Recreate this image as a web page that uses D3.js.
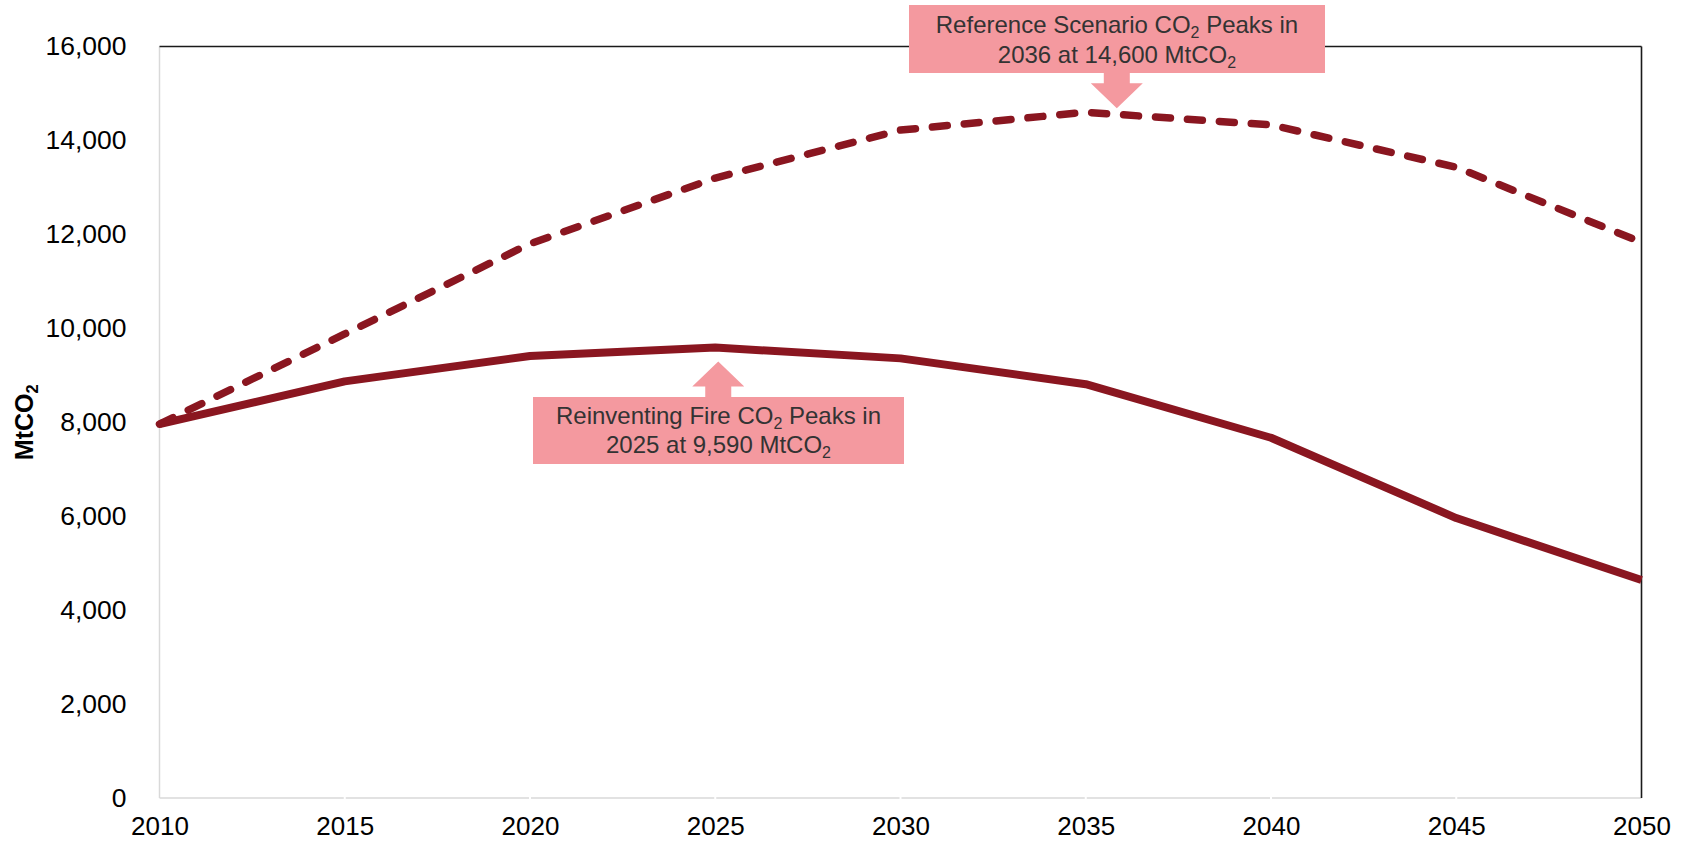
<!DOCTYPE html>
<html>
<head>
<meta charset="utf-8">
<script src="https://cdn.jsdelivr.net/npm/d3@7"></script>
<style>
  html, body { margin: 0; padding: 0; background: #fff; }
  svg { display: block; font-family: "Liberation Sans", Arial, sans-serif; }
</style>
</head>
<body>
<svg id="chart" width="1683" height="842"></svg>
<script>
// CO2 emissions, MtCO2, by 5-year step
const years = [2010, 2015, 2020, 2025, 2030, 2035, 2040, 2045, 2050];
const referenceScenario = [7960, 9880, 11800, 13200, 14220, 14600, 14330, 13430, 11830];
const reinventingFire = [7960, 8870, 9410, 9590, 9360, 8810, 7670, 5960, 4640];
const yTicks = [0, 2000, 4000, 6000, 8000, 10000, 12000, 14000, 16000];
const xTicks = [2010, 2015, 2020, 2025, 2030, 2035, 2040, 2045, 2050];

// Callout annotations: [text before subscript, subscript, text after] per line
const refCallout = { year: 2036, value: 14600,
  lines: [["Reference Scenario CO", "2", " Peaks in"], ["2036 at 14,600 MtCO", "2", ""]] };
const rfCallout = { year: 2025, value: 9590,
  lines: [["Reinventing Fire CO", "2", " Peaks in"], ["2025 at 9,590 MtCO", "2", ""]] };

const W = 1683, H = 842;
const margin = { top: 46.5, right: 41.5, bottom: 44, left: 159.5 };
const lineColor = "#8a1620";
const calloutFill = "#f4999f";
const textColor = "#333333";
const FONT = "'Liberation Sans', Arial, sans-serif";

const svg = d3.select("#chart");

const x = d3.scaleLinear().domain([2010, 2050]).range([margin.left, W - margin.right]);
const y = d3.scaleLinear().domain([0, 16000]).range([H - margin.bottom, margin.top]);

// Frame: light left/bottom axes, dark top/right borders
const frame = svg.append("g");
frame.append("line")
  .attr("x1", x(2010)).attr("x2", x(2010)).attr("y1", y(16000)).attr("y2", y(0))
  .attr("stroke", "#d9d9d9").attr("stroke-width", 1.5);
frame.append("line")
  .attr("x1", x(2010)).attr("x2", x(2050)).attr("y1", y(0)).attr("y2", y(0))
  .attr("stroke", "#d9d9d9").attr("stroke-width", 1.5);
frame.append("line")
  .attr("x1", x(2010)).attr("x2", x(2050)).attr("y1", y(16000)).attr("y2", y(16000))
  .attr("stroke", "#1a1a1a").attr("stroke-width", 1.6);
frame.append("line")
  .attr("x1", x(2050)).attr("x2", x(2050)).attr("y1", y(16000)).attr("y2", y(0))
  .attr("stroke", "#1a1a1a").attr("stroke-width", 1.6);

// Y axis labels
const yAxis = d3.axisLeft(y).tickValues(yTicks).tickFormat(d3.format(",")).tickSize(0).tickPadding(33);
const gy = svg.append("g").attr("transform", `translate(${margin.left},0)`).call(yAxis);
gy.select(".domain").remove();
gy.selectAll("text").attr("font-size", 26.5).attr("fill", "#000").attr("font-family", FONT);

// X axis labels
const xAxis = d3.axisBottom(x).tickValues(xTicks).tickFormat(d3.format("d")).tickSize(0).tickPadding(19);
const gx = svg.append("g").attr("transform", `translate(0,${H - margin.bottom})`).call(xAxis);
gx.select(".domain").remove();
gx.selectAll("text").attr("font-size", 26).attr("fill", "#000").attr("font-family", FONT);
// small breaks in the bottom axis at each tick
svg.append("g").selectAll("line").data(xTicks.slice(1, -1)).join("line")
  .attr("x1", d => x(d)).attr("x2", d => x(d))
  .attr("y1", y(0) - 1).attr("y2", y(0) + 1)
  .attr("stroke", "#fff").attr("stroke-width", 2);

// Y axis title
const yTitle = svg.append("text")
  .attr("transform", `translate(33,${(y(0) + y(16000)) / 2}) rotate(-90)`)
  .attr("text-anchor", "middle").attr("font-family", FONT)
  .attr("font-size", 25).attr("font-weight", "bold").attr("fill", "#000");
yTitle.append("tspan").text("MtCO");
yTitle.append("tspan").text("2").attr("font-size", 16.5).attr("dy", 5);

// Series lines
const line = d3.line().x((d, i) => x(years[i])).y(d => y(d)).curve(d3.curveLinear);

svg.append("path")
  .datum(reinventingFire)
  .attr("d", line)
  .attr("fill", "none")
  .attr("stroke", lineColor)
  .attr("stroke-width", 8)
  .attr("stroke-linejoin", "round");

svg.append("path")
  .datum(referenceScenario)
  .attr("d", line)
  .attr("fill", "none")
  .attr("stroke", lineColor)
  .attr("stroke-width", 7.5)
  .attr("stroke-linecap", "round")
  .attr("stroke-linejoin", "round")
  .attr("stroke-dasharray", "15,17");

// Callout box with arrow
function callout(cfg, opts) {
  const g = svg.append("g");
  const tipX = opts.tipX;
  const tipY = opts.tipY;
  const bx = opts.boxX, by = opts.boxY, bw = opts.boxW, bh = opts.boxH;
  const stemW = 26, headW = 52, headH = 25;
  let pts;
  if (opts.dir === "down") {
    const baseY = tipY - headH;
    pts = [[tipX - stemW / 2, by + bh - 1], [tipX - stemW / 2, baseY], [tipX - headW / 2, baseY],
           [tipX, tipY], [tipX + headW / 2, baseY], [tipX + stemW / 2, baseY], [tipX + stemW / 2, by + bh - 1]];
  } else {
    const baseY = tipY + headH;
    pts = [[tipX - stemW / 2, by + 1], [tipX - stemW / 2, baseY], [tipX - headW / 2, baseY],
           [tipX, tipY], [tipX + headW / 2, baseY], [tipX + stemW / 2, baseY], [tipX + stemW / 2, by + 1]];
  }
  g.append("rect").attr("x", bx).attr("y", by).attr("width", bw).attr("height", bh).attr("fill", calloutFill);
  g.append("path").attr("d", d3.line()(pts) + "Z").attr("fill", calloutFill);
  cfg.lines.forEach((parts, i) => {
    const t = g.append("text")
      .attr("x", bx + bw / 2).attr("y", by + opts.firstBaseline + i * opts.lineGap)
      .attr("text-anchor", "middle").attr("font-family", FONT)
      .attr("font-size", 24).attr("fill", textColor);
    t.append("tspan").text(parts[0]);
    t.append("tspan").text(parts[1]).attr("font-size", 16).attr("dy", 5);
    if (parts[2]) t.append("tspan").text(parts[2]).attr("dy", -5);
  });
}

callout(refCallout, {
  dir: "down", tipX: x(refCallout.year) - 6, tipY: y(refCallout.value) - 4,
  boxX: 909, boxY: 5, boxW: 416, boxH: 68, firstBaseline: 28, lineGap: 30
});
callout(rfCallout, {
  dir: "up", tipX: x(rfCallout.year) + 3, tipY: y(rfCallout.value) + 14,
  boxX: 533, boxY: 397, boxW: 371, boxH: 67, firstBaseline: 27, lineGap: 29
});
</script>
</body>
</html>
